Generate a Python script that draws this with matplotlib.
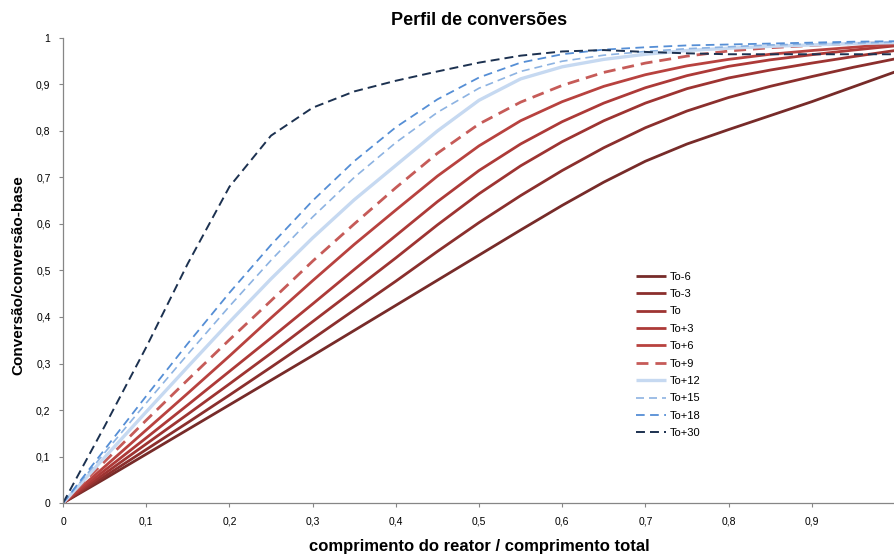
import matplotlib
matplotlib.use("Agg")
import matplotlib.pyplot as plt
from matplotlib import font_manager
from matplotlib.ticker import FuncFormatter

# Prefer a narrow sans face when one is installed
_names = {f.name for f in font_manager.fontManager.ttflist}
_family = [n for n in ("Liberation Sans Narrow", "Liberation Sans") if n in _names]
plt.rcParams['font.family'] = _family + ['DejaVu Sans']

# Relative reactor length (position / total length)
x = [0.00, 0.05, 0.10, 0.15, 0.20, 0.25, 0.30, 0.35, 0.40, 0.45, 0.50,
     0.55, 0.60, 0.65, 0.70, 0.75, 0.80, 0.85, 0.90, 0.95, 1.00]

# Conversion / base conversion for each operating time
to_m6 = [0, .052, .105, .158, .211, .264, .317, .371, .425, .479, .533,
         .587, .640, .690, .735, .772, .803, .833, .863, .895, .927]
to_m3 = [0, .057, .115, .173, .232, .292, .353, .415, .477, .541, .603,
         .661, .715, .764, .807, .843, .872, .896, .917, .937, .955]
to_0 = [0, .063, .127, .191, .256, .322, .390, .458, .527, .598, .665,
        .725, .777, .822, .860, .891, .914, .931, .946, .960, .973]
to_p3 = [0, .070, .140, .211, .283, .355, .428, .502, .575, .648, .715,
         .772, .820, .860, .893, .919, .939, .953, .964, .974, .983]
to_p6 = [0, .078, .157, .236, .316, .398, .478, .556, .630, .703, .768,
         .822, .863, .896, .921, .940, .954, .965, .973, .980, .987]
to_p9 = [0, .089, .178, .265, .351, .435, .520, .600, .678, .752, .815,
         .862, .898, .926, .946, .961, .972, .979, .984, .988, .990]
to_p12 = [0, .098, .196, .293, .389, .482, .570, .652, .726, .800, .866,
          .912, .938, .954, .965, .973, .978, .982, .985, .988, .990]
to_p15 = [0, .108, .215, .320, .423, .522, .615, .700, .775, .840, .892,
          .928, .950, .963, .971, .977, .981, .985, .987, .989, .991]
to_p18 = [0, .115, .230, .343, .452, .555, .650, .735, .808, .868, .915,
          .947, .965, .975, .980, .984, .986, .988, .990, .992, .993]
to_p30 = [0, .165, .335, .515, .680, .790, .850, .885, .908, .928, .947,
          .962, .971, .974, .970, .967, .965, .965, .965, .965, .965]

labels = ["To-6", "To-3", "To", "To+3", "To+6", "To+9",
          "To+12", "To+15", "To+18", "To+30"]
series = [to_m6, to_m3, to_0, to_p3, to_p6, to_p9,
          to_p12, to_p15, to_p18, to_p30]

styles = [
    dict(color="#772b29", lw=2.0, ls="-"),
    dict(color="#8b2f2d", lw=2.0, ls="-"),
    dict(color="#9e3432", lw=2.0, ls="-"),
    dict(color="#ad3a38", lw=2.0, ls="-"),
    dict(color="#b8423f", lw=2.0, ls="-"),
    dict(color="#c65b58", lw=2.0, ls=(0, (4.3, 2.5))),
    dict(color="#c6d9f1", lw=2.4, ls="-"),
    dict(color="#8db3e2", lw=1.2, ls=(0, (4.8, 3.0))),
    dict(color="#558ed5", lw=1.3, ls=(0, (4.8, 3.0))),
    dict(color="#1c3150", lw=1.4, ls=(0, (4.6, 2.6))),
]

fig = plt.figure(figsize=(8.95, 5.56), dpi=100)
ax = fig.add_axes([0.0704, 0.0953, 0.9296, 0.8364])

for y, lab, st in zip(series, labels, styles):
    ax.plot(x, y, label=lab, color=st["color"], lw=st["lw"],
            linestyle=st["ls"], solid_capstyle="butt", dash_capstyle="butt",
            solid_joinstyle="round")

ax.set_xlim(0, 1)
ax.set_ylim(0, 1)
ax.set_xticks([i / 10 for i in range(10)])
ax.set_yticks([i / 10 for i in range(11)])

fmt = FuncFormatter(lambda v, p: ("%g" % round(v, 1)).replace(".", ","))
ax.xaxis.set_major_formatter(fmt)
ax.yaxis.set_major_formatter(fmt)

for side in ("top", "right"):
    ax.spines[side].set_visible(False)
for side in ("left", "bottom"):
    ax.spines[side].set_color("#868686")
    ax.spines[side].set_linewidth(0.9)

ax.tick_params(axis="both", direction="out", length=3, width=0.8,
               color="#868686", labelsize=7.5, labelcolor="black")
ax.tick_params(axis="x", pad=7)
ax.tick_params(axis="y", pad=6)

ax.set_title("Perfil de conversões", fontsize=13, fontweight="bold", pad=9)
ax.set_xlabel("comprimento do reator / comprimento total", fontsize=12,
              fontweight="bold")
ax.xaxis.set_label_coords(0.5, -0.077)
ax.set_ylabel("Conversão/conversão-base", fontsize=11, fontweight="bold")
ax.yaxis.set_label_coords(-0.045, 0.49)

leg = ax.legend(loc="upper left", bbox_to_anchor=(0.683, 0.507), frameon=False,
                fontsize=8, handlelength=2.7, handletextpad=0.35,
                labelspacing=0.665, borderaxespad=0)

fig.savefig("out.png", dpi=100)
